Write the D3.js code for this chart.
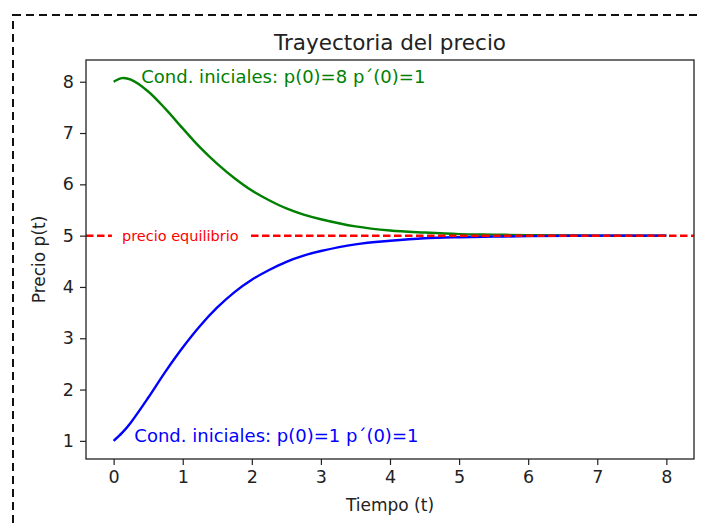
<!DOCTYPE html>
<html>
<head>
<meta charset="utf-8">
<script src="https://cdn.jsdelivr.net/npm/d3@7"></script>
<style>
  html, body { margin: 0; padding: 0; background: #fff; }
  svg { display: block; font-family: "DejaVu Sans", sans-serif; }
</style>
</head>
<body>
<svg id="chart" width="702" height="523"></svg>
<script>
// ---- data ----
const timeValues = [0, 0.125, 0.25, 0.5, 0.75, 1, 1.25, 1.5, 1.75, 2, 2.25, 2.5, 2.75, 3, 3.5, 4, 4.5, 5, 5.5, 6, 7, 8];
const priceGreen = [8.00, 8.07, 8.04, 7.81, 7.47, 7.09, 6.72, 6.40, 6.12, 5.88, 5.69, 5.53, 5.41, 5.32, 5.18, 5.10, 5.06, 5.03, 5.02, 5.01, 5.00, 5.00];
const priceBlue  = [1.00, 1.16, 1.36, 1.84, 2.35, 2.82, 3.24, 3.60, 3.90, 4.14, 4.33, 4.49, 4.61, 4.70, 4.83, 4.90, 4.95, 4.97, 4.98, 4.99, 5.00, 5.00];
const equilibrium = 5;
const xTicks = [0, 1, 2, 3, 4, 5, 6, 7, 8];
const yTicks = [1, 2, 3, 4, 5, 6, 7, 8];
const titleText = "Trayectoria del precio";
const xLabel = "Tiempo (t)";
const yLabel = "Precio p(t)";
const greenLabel = "Cond. iniciales: p(0)=8 p\u00b4(0)=1";
const blueLabel = "Cond. iniciales: p(0)=1 p\u00b4(0)=1";
const eqLabel = "precio equilibrio";

// ---- layout ----
const svg = d3.select("#chart");
const plot = { left: 86, top: 60, right: 694, bottom: 459 };

// page dashed frame
svg.append("rect")
  .attr("x", 13).attr("y", 15)
  .attr("width", 760).attr("height", 560)
  .attr("fill", "none").attr("stroke", "#111")
  .attr("stroke-width", 2).attr("stroke-dasharray", "8,5");

const xMin = d3.min(timeValues), xMax = d3.max(timeValues);
const xPad = (xMax - xMin) * 0.05;
const allY = priceGreen.concat(priceBlue);
const yMin = d3.min(allY), yMax = d3.max(allY);
const yPad = (yMax - yMin) * 0.05;

const x = d3.scaleLinear().domain([xMin - xPad, xMax + xPad]).range([plot.left, plot.right]);
const y = d3.scaleLinear().domain([yMin - yPad, yMax + yPad]).range([plot.bottom, plot.top]);

const g = svg.append("g");

const line = d3.line().x(d => x(d[0])).y(d => y(d[1])).curve(d3.curveCatmullRom.alpha(0.5));

g.append("path")
  .datum(timeValues.map((t, i) => [t, priceGreen[i]]))
  .attr("d", line).attr("fill", "none")
  .attr("stroke", "#008000").attr("stroke-width", 2.4);

g.append("path")
  .datum(timeValues.map((t, i) => [t, priceBlue[i]]))
  .attr("d", line).attr("fill", "none")
  .attr("stroke", "#0000ff").attr("stroke-width", 2.4);

// equilibrium dashed line (drawn over the curves)
g.append("line")
  .attr("x1", plot.left).attr("x2", plot.right)
  .attr("y1", y(equilibrium)).attr("y2", y(equilibrium))
  .attr("stroke", "#ff0000").attr("stroke-width", 2.5)
  .attr("stroke-dasharray", "7.5,3.5");

// equilibrium text with white box
const eqText = g.append("text")
  .attr("x", x(0.12)).attr("y", y(equilibrium))
  .attr("dominant-baseline", "central")
  .attr("font-size", 14.5).attr("fill", "#ff0000")
  .text(eqLabel);
const bb = eqText.node().getBBox();
g.insert("rect", "text")
  .attr("x", bb.x - 10).attr("y", bb.y - 1)
  .attr("width", bb.width + 20).attr("height", bb.height + 2)
  .attr("fill", "#fff");

// annotations
g.append("text")
  .attr("x", x(0.4)).attr("y", y(8) + 1.5)
  .attr("font-size", 18).attr("fill", "#008000")
  .text(greenLabel);
g.append("text")
  .attr("x", x(0.3)).attr("y", y(1) + 1.5)
  .attr("font-size", 18).attr("fill", "#0000ff")
  .text(blueLabel);

// frame
svg.append("rect")
  .attr("x", plot.left).attr("y", plot.top)
  .attr("width", plot.right - plot.left).attr("height", plot.bottom - plot.top)
  .attr("fill", "none").attr("stroke", "#222").attr("stroke-width", 1.3);

// axes
const xAxis = svg.append("g")
  .attr("transform", `translate(0,${plot.bottom})`)
  .call(d3.axisBottom(x).tickValues(xTicks).tickFormat(d3.format("d")).tickSize(6).tickPadding(6));
const yAxis = svg.append("g")
  .attr("transform", `translate(${plot.left},0)`)
  .call(d3.axisLeft(y).tickValues(yTicks).tickFormat(d3.format("d")).tickSize(6).tickPadding(6));
[xAxis, yAxis].forEach(a => {
  a.select(".domain").remove();
  a.selectAll(".tick line").attr("stroke", "#222").attr("stroke-width", 1.2);
  a.selectAll(".tick text").attr("fill", "#222").attr("font-size", 17.5)
    .attr("font-family", "DejaVu Sans, sans-serif");
});

// title and labels
svg.append("text")
  .attr("x", (plot.left + plot.right) / 2).attr("y", 50)
  .attr("text-anchor", "middle").attr("font-size", 21.5).attr("fill", "#222")
  .text(titleText);
svg.append("text")
  .attr("x", (plot.left + plot.right) / 2).attr("y", 511)
  .attr("text-anchor", "middle").attr("font-size", 17).attr("fill", "#222")
  .text(xLabel);
svg.append("text")
  .attr("transform", `translate(45,${(plot.top + plot.bottom) / 2}) rotate(-90)`)
  .attr("text-anchor", "middle").attr("font-size", 17).attr("fill", "#222")
  .text(yLabel);
</script>
</body>
</html>
